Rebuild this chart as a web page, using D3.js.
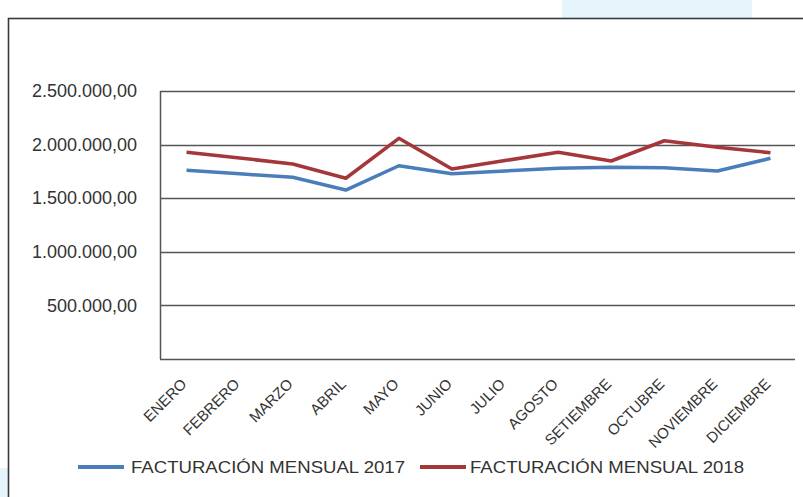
<!DOCTYPE html>
<html>
<head>
<meta charset="utf-8">
<script src="https://cdn.jsdelivr.net/npm/d3@7"></script>
<style>
  body { margin: 0; background: #fff; }
  svg { display: block; font-family: "Liberation Sans", Arial, sans-serif; }
</style>
</head>
<body>
<script>
// datos
const months = ["ENERO", "FEBRERO", "MARZO", "ABRIL", "MAYO", "JUNIO", "JULIO",
    "AGOSTO", "SETIEMBRE", "OCTUBRE", "NOVIEMBRE", "DICIEMBRE"]
const fact2017 = [1760000, 1727000, 1695000, 1576000, 1803000, 1728000, 1754000,
    1779000, 1788000, 1785000, 1754000, 1872000]
const fact2018 = [1928000, 1875000, 1819000, 1686000, 2059000, 1772000, 1851000,
    1928000, 1847000, 2036000, 1975000, 1924000]
const yTicks = [500000, 1000000, 1500000, 2000000, 2500000]
const seriesNames = ["FACTURACIÓN MENSUAL 2017", "FACTURACIÓN MENSUAL 2018"]
const colors = ["#4a7ebb", "#a5373a"]

const width = 803, height = 497
const plot = { left: 160, right: 797, top: 91, bottom: 359 }

const svg = d3.select("body").append("svg")
    .attr("width", width)
    .attr("height", height)

// fondo celeste que asoma por arriba y abajo a la izquierda
svg.append("rect").attr("x", 562).attr("y", 0).attr("width", 190).attr("height", 18).attr("fill", "#e6f4fc")
svg.append("rect").attr("x", 0).attr("y", 468).attr("width", 8).attr("height", 29).attr("fill", "#e6f4fc")

// marco exterior
svg.append("rect")
    .attr("x", 8.5).attr("y", 18.5)
    .attr("width", 820).attr("height", 500)
    .attr("fill", "none")
    .attr("stroke", "#3a3a3a")
    .attr("stroke-width", 1.6)

const x = d3.scaleBand().domain(months).range([plot.left, plot.right])
const y = d3.scaleLinear().domain([0, 2500000]).range([plot.bottom, plot.top])

const fmt = v => d3.format(",.2f")(v).replace(/,/g, "#").replace(".", ",").replace(/#/g, ".")

// lineas de grilla
svg.append("g")
    .selectAll("line")
    .data(yTicks)
    .join("line")
    .attr("x1", plot.left).attr("x2", plot.right - 2)
    .attr("y1", d => Math.round(y(d)) + 0.5)
    .attr("y2", d => Math.round(y(d)) + 0.5)
    .attr("stroke", "#555")
    .attr("stroke-width", 1.5)

// eje y
const yAxis = svg.append("g")
    .attr("transform", `translate(${plot.left},0)`)
    .call(d3.axisLeft(y).tickValues(yTicks).tickSize(0).tickPadding(23).tickFormat(fmt))
yAxis.select(".domain").remove()
yAxis.selectAll("text")
    .attr("font-size", 18)
    .attr("font-family", "Liberation Sans, Arial, sans-serif")
    .attr("fill", "#333")

svg.append("line")
    .attr("x1", plot.left + 0.5).attr("x2", plot.left + 0.5)
    .attr("y1", plot.top).attr("y2", plot.bottom)
    .attr("stroke", "#555").attr("stroke-width", 1.5)
svg.append("line")
    .attr("x1", plot.left).attr("x2", plot.right - 2)
    .attr("y1", plot.bottom + 0.5).attr("y2", plot.bottom + 0.5)
    .attr("stroke", "#555").attr("stroke-width", 1.5)

// etiquetas del eje x
svg.append("g")
    .selectAll("text")
    .data(months)
    .join("text")
    .attr("transform", d => `translate(${x(d) + x.bandwidth() / 2 + 1},${plot.bottom + 26}) rotate(-45)`)
    .attr("text-anchor", "end")
    .attr("font-size", 15)
    .attr("fill", "#333")
    .text(d => d)

// series
const line = d3.line()
    .x((d, i) => x(months[i]) + x.bandwidth() / 2)
    .y(d => y(d))

const series = [fact2017, fact2018]
series.forEach((s, i) => {
    svg.append("path")
        .datum(s)
        .attr("d", line)
        .attr("fill", "none")
        .attr("stroke", colors[i])
        .attr("stroke-width", 3.5)
        .attr("stroke-linejoin", "round")
})

// leyenda
const legendX = [78, 420]
seriesNames.forEach((name, i) => {
    const g = svg.append("g").attr("transform", `translate(${legendX[i]},467)`)
    g.append("line")
        .attr("x1", 0).attr("x2", 46)
        .attr("stroke", colors[i]).attr("stroke-width", 4)
    g.append("text")
        .attr("x", i == 0 ? 53 : 50)
        .attr("dy", "0.36em")
        .attr("font-size", 17)
        .attr("fill", "#333")
        .attr("textLength", 274)
        .attr("lengthAdjust", "spacingAndGlyphs")
        .text(name)
})
</script>
</body>
</html>
